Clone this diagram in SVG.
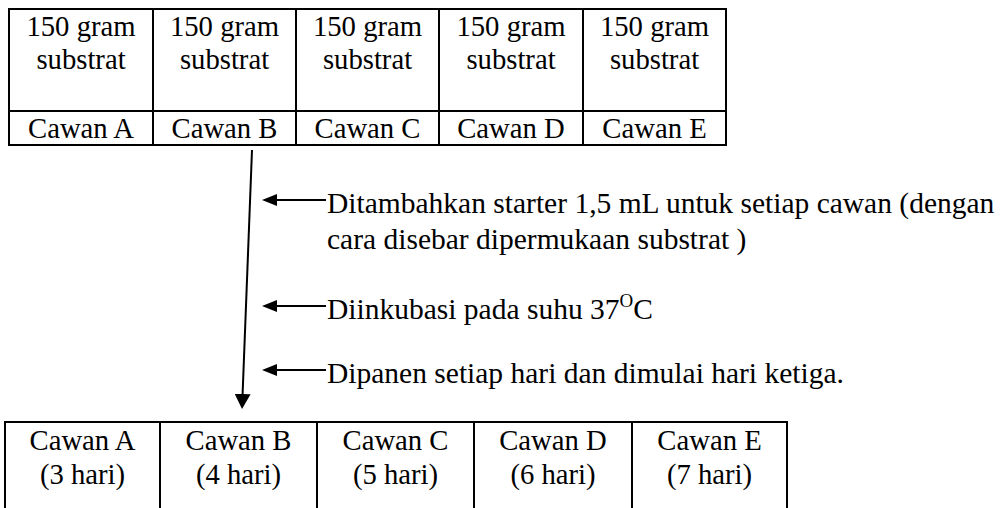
<svg xmlns="http://www.w3.org/2000/svg" width="1003" height="508" viewBox="0 0 1003 508">
  <style>
    .cell { fill: #ffffff; stroke: #000000; stroke-width: 2; }
    .link { stroke: #000000; stroke-width: 2; fill: none; }
  </style>
  <defs>
    <marker id="head-main" markerUnits="userSpaceOnUse" markerWidth="16" markerHeight="16" refX="0" refY="8" orient="auto">
      <path d="M0,0 L15,8 L0,16 z" fill="#000000"/>
    </marker>
    <marker id="head-side" markerUnits="userSpaceOnUse" markerWidth="16" markerHeight="12" refX="0" refY="6" orient="auto">
      <path d="M0,0 L15,6 L0,12 z" fill="#000000"/>
    </marker>
  </defs>
  <rect width="1003" height="508" fill="#ffffff"/>

  <!-- Starting plates: 150 g substrate each -->
  <g id="cawan-awal" font-family="'Liberation Serif', 'Times New Roman', serif" font-size="28.7" text-anchor="middle" fill="#000000">
    <rect class="cell" x="9" y="9" width="717" height="136"/>
    <line class="cell" x1="9" y1="111" x2="726" y2="111"/>
    <line class="cell" x1="153" y1="9" x2="153" y2="145"/>
    <line class="cell" x1="296" y1="9" x2="296" y2="145"/>
    <line class="cell" x1="439" y1="9" x2="439" y2="145"/>
    <line class="cell" x1="583" y1="9" x2="583" y2="145"/>
    <g id="awal-a">
      <text x="81" y="36">150 gram</text>
      <text x="81" y="69">substrat</text>
      <text x="81" y="138">Cawan A</text>
    </g>
    <g id="awal-b">
      <text x="224.5" y="36">150 gram</text>
      <text x="224.5" y="69">substrat</text>
      <text x="224.5" y="138">Cawan B</text>
    </g>
    <g id="awal-c">
      <text x="367.5" y="36">150 gram</text>
      <text x="367.5" y="69">substrat</text>
      <text x="367.5" y="138">Cawan C</text>
    </g>
    <g id="awal-d">
      <text x="511" y="36">150 gram</text>
      <text x="511" y="69">substrat</text>
      <text x="511" y="138">Cawan D</text>
    </g>
    <g id="awal-e">
      <text x="654.5" y="36">150 gram</text>
      <text x="654.5" y="69">substrat</text>
      <text x="654.5" y="138">Cawan E</text>
    </g>
  </g>

  <!-- Process steps -->
  <g id="langkah" font-family="'Liberation Serif', 'Times New Roman', serif" font-size="29.5" fill="#000000">
    <g id="langkah-starter">
      <text x="327" y="213">Ditambahkan starter 1,5 mL untuk setiap cawan (dengan</text>
      <text x="327" y="249">cara disebar dipermukaan substrat )</text>
    </g>
    <g id="langkah-inkubasi">
      <text x="327" y="319">Diinkubasi pada suhu 37<tspan font-size="19" dy="-12">O</tspan><tspan dy="12">C</tspan></text>
    </g>
    <g id="langkah-panen">
      <text x="327" y="383">Dipanen setiap hari dan dimulai hari ketiga.</text>
    </g>
  </g>

  <!-- Harvested plates -->
  <g id="cawan-panen" font-family="'Liberation Serif', 'Times New Roman', serif" font-size="28.7" text-anchor="middle" fill="#000000">
    <rect class="cell" x="5" y="422" width="782" height="100"/>
    <line class="cell" x1="160" y1="422" x2="160" y2="510"/>
    <line class="cell" x1="317" y1="422" x2="317" y2="510"/>
    <line class="cell" x1="474" y1="422" x2="474" y2="510"/>
    <line class="cell" x1="632" y1="422" x2="632" y2="510"/>
    <g id="panen-a">
      <text x="82.5" y="450">Cawan A</text>
      <text x="82.5" y="484">(3 hari)</text>
    </g>
    <g id="panen-b">
      <text x="238.5" y="450">Cawan B</text>
      <text x="238.5" y="484">(4 hari)</text>
    </g>
    <g id="panen-c">
      <text x="395.5" y="450">Cawan C</text>
      <text x="395.5" y="484">(5 hari)</text>
    </g>
    <g id="panen-d">
      <text x="553" y="450">Cawan D</text>
      <text x="553" y="484">(6 hari)</text>
    </g>
    <g id="panen-e">
      <text x="709.5" y="450">Cawan E</text>
      <text x="709.5" y="484">(7 hari)</text>
    </g>
  </g>

  <!-- Connectors -->
  <g id="connectors">
    <line class="link" x1="252" y1="150" x2="242.6" y2="394" marker-end="url(#head-main)"/>
    <line class="link" x1="326" y1="200" x2="277" y2="200" marker-end="url(#head-side)"/>
    <line class="link" x1="326" y1="306" x2="277" y2="306" marker-end="url(#head-side)"/>
    <line class="link" x1="326" y1="370" x2="277" y2="370" marker-end="url(#head-side)"/>
  </g>
</svg>
